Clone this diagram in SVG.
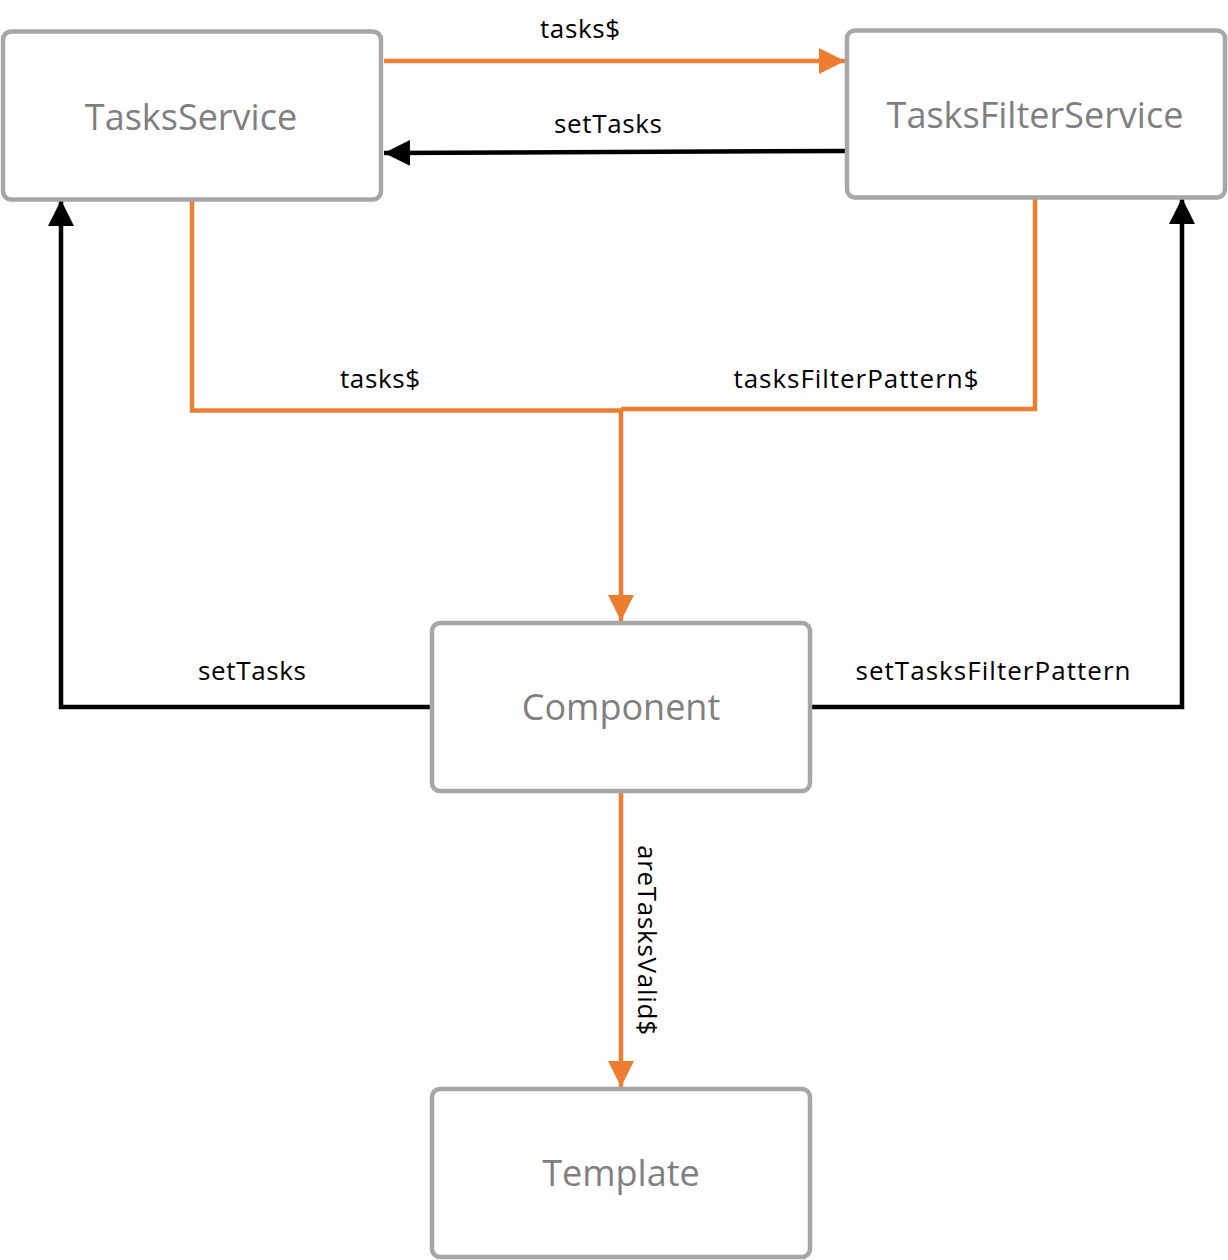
<svg xmlns="http://www.w3.org/2000/svg" width="1228" height="1260" viewBox="0 0 1228 1260">
<style>
.box{fill:#ffffff;stroke:#a6a6a6;stroke-width:4.5}
.nt{font-family:"Open Sans","Liberation Sans",sans-serif;font-size:36px;fill:#7f7f7f;text-anchor:middle}
.lb{font-family:"Open Sans","Liberation Sans",sans-serif;font-size:26px;fill:#000000;text-anchor:middle}
.or{fill:none;stroke:#ed7d31;stroke-width:4.5}
.bk{fill:none;stroke:#000000;stroke-width:4.5}
</style>
<defs>
<marker id="ao" markerUnits="userSpaceOnUse" markerWidth="27" markerHeight="27" refX="26" refY="13" orient="auto"><path d="M0,0 L26,13 L0,26 z" fill="#ed7d31"/></marker>
<marker id="ab" markerUnits="userSpaceOnUse" markerWidth="27" markerHeight="27" refX="26" refY="13" orient="auto"><path d="M0,0 L26,13 L0,26 z" fill="#000000"/></marker>
</defs>
<rect width="1228" height="1260" fill="#ffffff"/>
<g id="connectors">
<line class="or" x1="384" y1="61" x2="845" y2="61" marker-end="url(#ao)"/>
<line class="bk" x1="847" y1="151" x2="384" y2="153" marker-end="url(#ab)"/>
<polyline class="or" points="192,201 192,410.5 621,410.5"/>
<polyline class="or" points="1035,199 1035,409 621,409"/>
<line class="or" x1="621" y1="409" x2="621" y2="621" marker-end="url(#ao)"/>
<polyline class="bk" points="432,707 61,707 61,200" marker-end="url(#ab)"/>
<polyline class="bk" points="810,707 1182,707 1182,198" marker-end="url(#ab)"/>
<line class="or" x1="621" y1="792" x2="621" y2="1087" marker-end="url(#ao)"/>
<text class="lb" x="580" y="38" textLength="80" lengthAdjust="spacing">tasks$</text>
<text class="lb" x="608" y="133" textLength="108" lengthAdjust="spacing">setTasks</text>
<text class="lb" x="380" y="388" textLength="80" lengthAdjust="spacing">tasks$</text>
<text class="lb" x="856" y="388" textLength="245" lengthAdjust="spacing">tasksFilterPattern$</text>
<text class="lb" x="252" y="680" textLength="108" lengthAdjust="spacing">setTasks</text>
<text class="lb" x="993" y="680" textLength="275" lengthAdjust="spacing">setTasksFilterPattern</text>
<text class="lb" transform="translate(638,940) rotate(90)" x="0" y="0" textLength="190" lengthAdjust="spacing">areTasksValid$</text>
</g>
<g id="tasks-service">
<rect class="box" x="3" y="31.5" width="378" height="168" rx="8"/>
<text class="nt" x="191" y="130">TasksService</text>
</g>
<g id="tasks-filter-service">
<rect class="box" x="847" y="30.5" width="378" height="167" rx="8"/>
<text class="nt" x="1035" y="128">TasksFilterService</text>
</g>
<g id="component">
<rect class="box" x="432" y="623" width="378" height="168" rx="8"/>
<text class="nt" x="621" y="720">Component</text>
</g>
<g id="template">
<rect class="box" x="432" y="1089" width="378" height="168" rx="8"/>
<text class="nt" x="621" y="1186">Template</text>
</g>
</svg>
